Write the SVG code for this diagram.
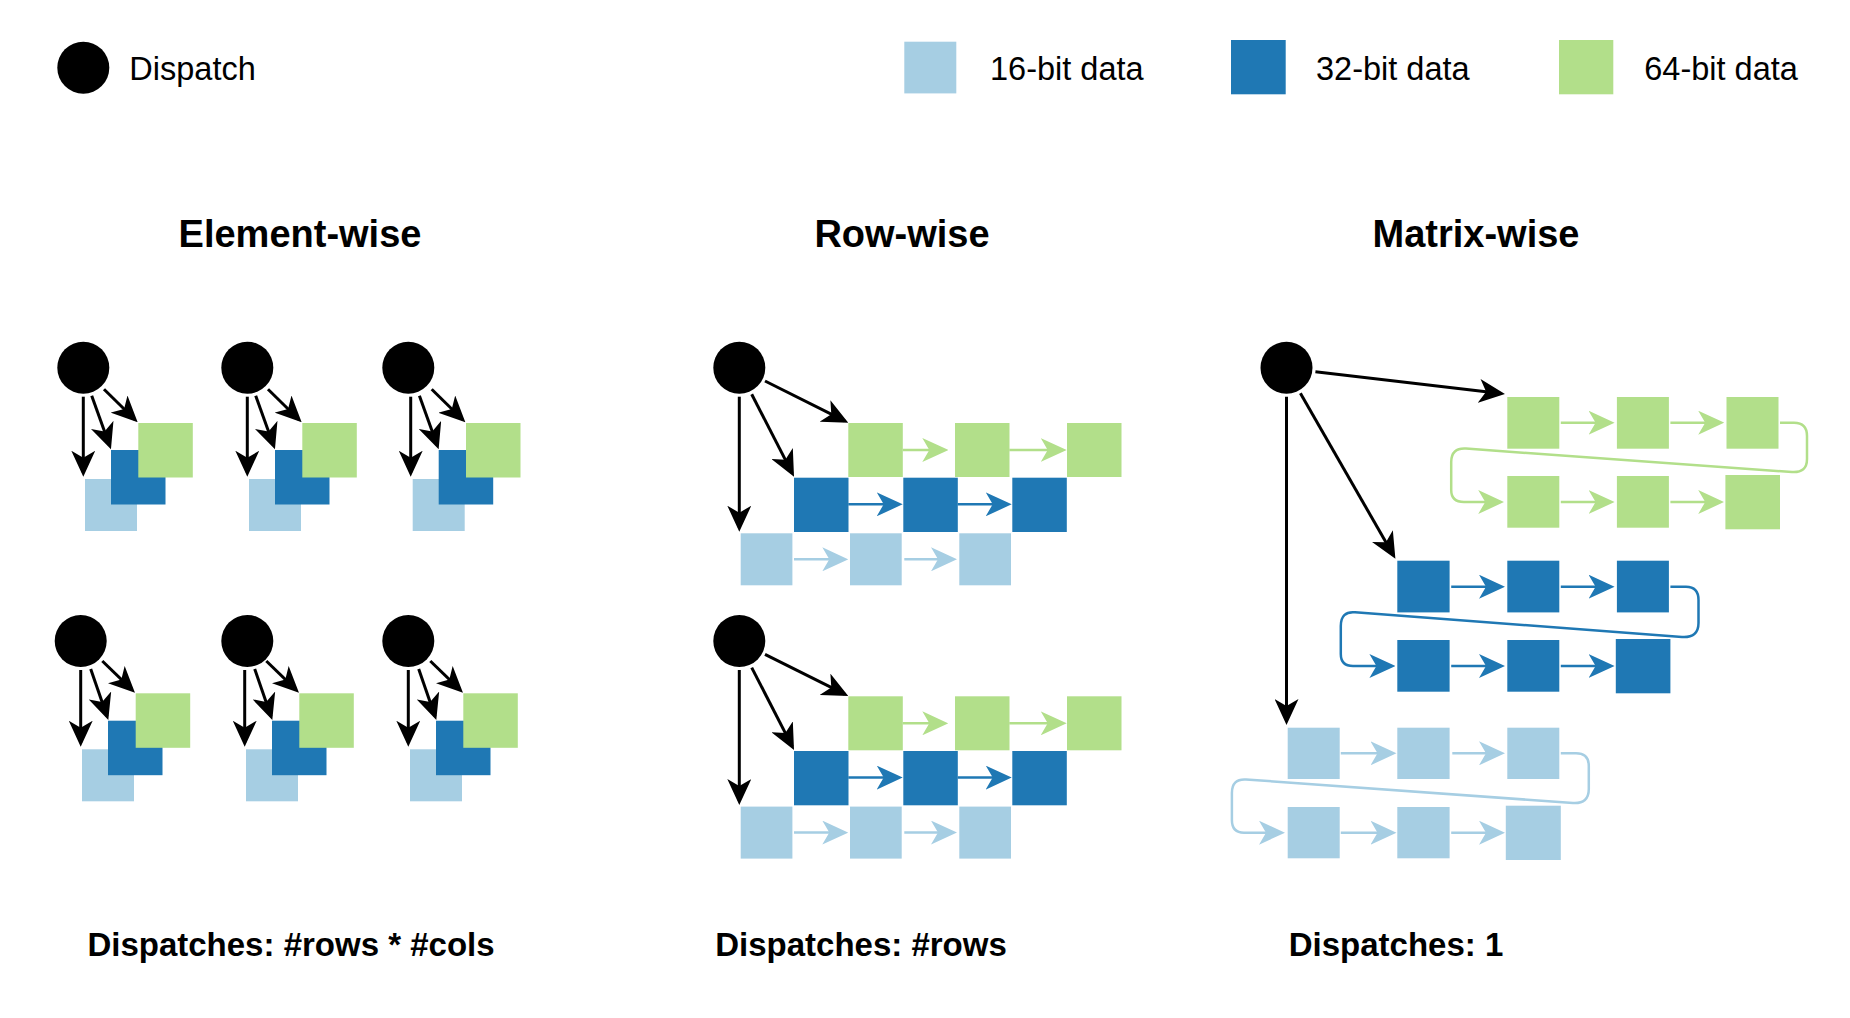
<svg xmlns="http://www.w3.org/2000/svg" width="1850" height="1018" viewBox="0 0 1850 1018">
<style>
.d{fill:#000}
.l{fill:#a6cee3}
.b{fill:#1f78b4}
.g{fill:#b2df8a}
text{font-family:"Liberation Sans",Arial,Helvetica,sans-serif;fill:#000}
.leg{font-size:32.5px}
.title{font-size:38px;font-weight:bold;text-anchor:middle}
.foot{font-size:33px;font-weight:bold;text-anchor:middle}
.k{stroke:#000;stroke-width:3;fill:none;marker-end:url(#mk)}
.cg{stroke:#b2df8a;stroke-width:2.5;fill:none;marker-end:url(#mg)}
.cb{stroke:#1f78b4;stroke-width:2.5;fill:none;marker-end:url(#mb)}
.cl{stroke:#a6cee3;stroke-width:2.5;fill:none;marker-end:url(#ml)}
</style>
<defs>
<marker id="mk" markerUnits="userSpaceOnUse" viewBox="0 0 26 24" refX="22" refY="12" markerWidth="26" markerHeight="24" orient="auto"><path d="M0,0 L26,12 L0,24 L7,12 Z" fill="#000"/></marker>
<marker id="mg" markerUnits="userSpaceOnUse" viewBox="0 0 26 24" refX="22" refY="12" markerWidth="26" markerHeight="24" orient="auto"><path d="M0,0 L26,12 L0,24 L7,12 Z" fill="#b2df8a"/></marker>
<marker id="mb" markerUnits="userSpaceOnUse" viewBox="0 0 26 24" refX="22" refY="12" markerWidth="26" markerHeight="24" orient="auto"><path d="M0,0 L26,12 L0,24 L7,12 Z" fill="#1f78b4"/></marker>
<marker id="ml" markerUnits="userSpaceOnUse" viewBox="0 0 26 24" refX="22" refY="12" markerWidth="26" markerHeight="24" orient="auto"><path d="M0,0 L26,12 L0,24 L7,12 Z" fill="#a6cee3"/></marker>
</defs>
<rect x="0" y="0" width="1850" height="1018" fill="#fff"/>

<!-- Legend -->
<g id="legend-dispatch"><circle class="d" cx="83.3" cy="67.7" r="26"/><text class="leg" x="129.3" y="80">Dispatch</text></g>
<g id="legend-16"><rect class="l" x="904.3" y="41.7" width="52" height="51.7"/><text class="leg" x="990" y="80">16-bit data</text></g>
<g id="legend-32"><rect class="b" x="1231" y="40" width="54.7" height="54.3"/><text class="leg" x="1316" y="80">32-bit data</text></g>
<g id="legend-64"><rect class="g" x="1559" y="40" width="54.3" height="54.3"/><text class="leg" x="1644.3" y="80">64-bit data</text></g>

<!-- Titles -->
<g id="title-element"><text class="title" x="300" y="246.5">Element-wise</text></g>
<g id="title-row"><text class="title" x="902" y="246.5">Row-wise</text></g>
<g id="title-matrix"><text class="title" x="1476" y="246.5">Matrix-wise</text></g>

<!-- Element-wise nodes -->
<g id="ew1-dispatch"><circle class="d" cx="83.3" cy="367.7" r="26"/></g>
<g id="ew1-16"><rect class="l" x="85" y="479" width="52" height="52"/></g>
<g id="ew1-32"><rect class="b" x="111" y="450" width="54.5" height="54.5"/></g>
<g id="ew1-64"><rect class="g" x="138.3" y="423" width="54.5" height="54.5"/></g>

<g id="ew2-dispatch"><circle class="d" cx="247.3" cy="367.7" r="26"/></g>
<g id="ew2-16"><rect class="l" x="249" y="479" width="52" height="52"/></g>
<g id="ew2-32"><rect class="b" x="275" y="450" width="54.5" height="54.5"/></g>
<g id="ew2-64"><rect class="g" x="302.3" y="423" width="54.5" height="54.5"/></g>

<g id="ew3-dispatch"><circle class="d" cx="408.3" cy="367.7" r="26"/></g>
<g id="ew3-16"><rect class="l" x="412.7" y="479" width="52" height="52"/></g>
<g id="ew3-32"><rect class="b" x="438.7" y="450" width="54.5" height="54.5"/></g>
<g id="ew3-64"><rect class="g" x="466" y="423" width="54.5" height="54.5"/></g>

<g id="ew4-dispatch"><circle class="d" cx="80.7" cy="641" r="26"/></g>
<g id="ew4-16"><rect class="l" x="82" y="749.3" width="52" height="52"/></g>
<g id="ew4-32"><rect class="b" x="108" y="720.7" width="54.5" height="54.5"/></g>
<g id="ew4-64"><rect class="g" x="135.7" y="693.3" width="54.5" height="54.5"/></g>

<g id="ew5-dispatch"><circle class="d" cx="247.3" cy="641" r="26"/></g>
<g id="ew5-16"><rect class="l" x="246" y="749.3" width="52" height="52"/></g>
<g id="ew5-32"><rect class="b" x="272" y="720.7" width="54.5" height="54.5"/></g>
<g id="ew5-64"><rect class="g" x="299.3" y="693.3" width="54.5" height="54.5"/></g>

<g id="ew6-dispatch"><circle class="d" cx="408.3" cy="641" r="26"/></g>
<g id="ew6-16"><rect class="l" x="410" y="749.3" width="52" height="52"/></g>
<g id="ew6-32"><rect class="b" x="436" y="720.7" width="54.5" height="54.5"/></g>
<g id="ew6-64"><rect class="g" x="463.3" y="693.3" width="54.5" height="54.5"/></g>

<!-- Row-wise nodes, section 1 -->
<g id="rw1-dispatch"><circle class="d" cx="739.3" cy="367.7" r="26"/></g>
<g id="rw1-64a"><rect class="g" x="848.3" y="423" width="54.5" height="54"/></g>
<g id="rw1-64b"><rect class="g" x="955" y="423" width="54.5" height="54"/></g>
<g id="rw1-64c"><rect class="g" x="1067" y="423" width="54.5" height="54"/></g>
<g id="rw1-32a"><rect class="b" x="794" y="477.7" width="54.5" height="54.3"/></g>
<g id="rw1-32b"><rect class="b" x="903.3" y="477.7" width="54.5" height="54.3"/></g>
<g id="rw1-32c"><rect class="b" x="1012.3" y="477.7" width="54.5" height="54.3"/></g>
<g id="rw1-16a"><rect class="l" x="740.7" y="533.3" width="51.7" height="52"/></g>
<g id="rw1-16b"><rect class="l" x="850" y="533.3" width="51.7" height="52"/></g>
<g id="rw1-16c"><rect class="l" x="959.3" y="533.3" width="51.7" height="52"/></g>

<!-- Row-wise nodes, section 2 -->
<g id="rw2-dispatch"><circle class="d" cx="739.3" cy="641" r="26"/></g>
<g id="rw2-64a"><rect class="g" x="848.3" y="696.3" width="54.5" height="54"/></g>
<g id="rw2-64b"><rect class="g" x="955" y="696.3" width="54.5" height="54"/></g>
<g id="rw2-64c"><rect class="g" x="1067" y="696.3" width="54.5" height="54"/></g>
<g id="rw2-32a"><rect class="b" x="794" y="751" width="54.5" height="54.3"/></g>
<g id="rw2-32b"><rect class="b" x="903.3" y="751" width="54.5" height="54.3"/></g>
<g id="rw2-32c"><rect class="b" x="1012.3" y="751" width="54.5" height="54.3"/></g>
<g id="rw2-16a"><rect class="l" x="740.7" y="806.6" width="51.7" height="52"/></g>
<g id="rw2-16b"><rect class="l" x="850" y="806.6" width="51.7" height="52"/></g>
<g id="rw2-16c"><rect class="l" x="959.3" y="806.6" width="51.7" height="52"/></g>

<!-- Matrix-wise nodes -->
<g id="mw-dispatch"><circle class="d" cx="1286.5" cy="367.7" r="26"/></g>
<g id="mw-64-1"><rect class="g" x="1507.3" y="397" width="52" height="51.7"/></g>
<g id="mw-64-2"><rect class="g" x="1616.9" y="397" width="52" height="51.7"/></g>
<g id="mw-64-3"><rect class="g" x="1726.5" y="397" width="52" height="51.7"/></g>
<g id="mw-64-4"><rect class="g" x="1507.3" y="476" width="52" height="51.7"/></g>
<g id="mw-64-5"><rect class="g" x="1616.9" y="476" width="52" height="51.7"/></g>
<g id="mw-64-6"><rect class="g" x="1725.4" y="475" width="54.6" height="54.3"/></g>
<g id="mw-32-1"><rect class="b" x="1397.3" y="560.7" width="52.3" height="51.7"/></g>
<g id="mw-32-2"><rect class="b" x="1507.3" y="560.7" width="52" height="51.7"/></g>
<g id="mw-32-3"><rect class="b" x="1616.9" y="560.7" width="52" height="51.7"/></g>
<g id="mw-32-4"><rect class="b" x="1397.3" y="640" width="52.3" height="51.7"/></g>
<g id="mw-32-5"><rect class="b" x="1507.3" y="640" width="52" height="51.7"/></g>
<g id="mw-32-6"><rect class="b" x="1615.8" y="639" width="54.6" height="54.3"/></g>
<g id="mw-16-1"><rect class="l" x="1287.7" y="727.7" width="52" height="51.3"/></g>
<g id="mw-16-2"><rect class="l" x="1397.3" y="727.7" width="52.3" height="51.3"/></g>
<g id="mw-16-3"><rect class="l" x="1507.3" y="727.7" width="52" height="51.3"/></g>
<g id="mw-16-4"><rect class="l" x="1287.7" y="807" width="52" height="51.3"/></g>
<g id="mw-16-5"><rect class="l" x="1397.3" y="807" width="52.3" height="51.3"/></g>
<g id="mw-16-6"><rect class="l" x="1505.8" y="805.7" width="55" height="54.3"/></g>

<!-- Footers -->
<g id="foot-element"><text class="foot" x="291" y="956">Dispatches: #rows * #cols</text></g>
<g id="foot-row"><text class="foot" x="861" y="956">Dispatches: #rows</text></g>
<g id="foot-matrix"><text class="foot" x="1396" y="956">Dispatches: 1</text></g>

<!-- Connectors -->
<g id="connectors">
<!-- element-wise -->
<path class="k" d="M83.3,396.7 L83.3,472.7"/>
<path class="k" d="M91.7,395.7 L109.6,445.6"/>
<path class="k" d="M104,389.3 L134.8,419.5"/>
<path class="k" d="M247.3,396.7 L247.3,472.7"/>
<path class="k" d="M255.7,395.7 L273.6,445.6"/>
<path class="k" d="M268,389.3 L298.8,419.5"/>
<path class="k" d="M410.7,396.7 L410.7,472.7"/>
<path class="k" d="M419.4,395.7 L437.3,445.6"/>
<path class="k" d="M431.7,389.3 L462.5,419.5"/>
<path class="k" d="M80.7,670 L80.7,742.7"/>
<path class="k" d="M90.7,669 L107,716.2"/>
<path class="k" d="M102.3,661 L132.1,689.9"/>
<path class="k" d="M244.7,670 L244.7,742.7"/>
<path class="k" d="M254.7,669 L271,716.2"/>
<path class="k" d="M266.3,661 L296.1,689.9"/>
<path class="k" d="M408.3,670 L408.3,742.7"/>
<path class="k" d="M418.7,669 L435,716.2"/>
<path class="k" d="M430.3,661 L460.1,689.9"/>
<!-- row-wise 1 -->
<path class="k" d="M739.3,396.7 L739.3,527.7"/>
<path class="k" d="M751.7,394.3 L792.2,473.1"/>
<path class="k" d="M765,381 L844.7,420.9"/>
<path class="cg" d="M902.7,450 L944.3,450"/>
<path class="cg" d="M1009.3,450 L1062.7,450"/>
<path class="cb" d="M848.3,504.3 L898.7,504.3"/>
<path class="cb" d="M957.7,504.3 L1007.7,504.3"/>
<path class="cl" d="M794,559.3 L844.3,559.3"/>
<path class="cl" d="M904.3,559.3 L953,559.3"/>
<!-- row-wise 2 -->
<path class="k" d="M739.3,670 L739.3,801"/>
<path class="k" d="M751.7,667.6 L792.2,746.4"/>
<path class="k" d="M765,654.3 L844.7,694.2"/>
<path class="cg" d="M902.7,723.3 L944.3,723.3"/>
<path class="cg" d="M1009.3,723.3 L1062.7,723.3"/>
<path class="cb" d="M848.3,777.6 L898.7,777.6"/>
<path class="cb" d="M957.7,777.6 L1007.7,777.6"/>
<path class="cl" d="M794,832.6 L844.3,832.6"/>
<path class="cl" d="M904.3,832.6 L953,832.6"/>
<!-- matrix-wise -->
<path class="k" d="M1315.4,371.7 L1501,393.5"/>
<path class="k" d="M1300.4,393.3 L1393.4,555.2"/>
<path class="k" d="M1286.5,396.7 L1286.5,721"/>
<path class="cg" d="M1560.8,422.7 L1610.6,422.7"/>
<path class="cg" d="M1670.4,422.7 L1720.2,422.7"/>
<path class="cg" d="M1780,422.7 L1794,422.7 Q1807,422.7 1807,436 L1807,459 Q1807,473 1792,472 L1466,448.6 Q1451.2,447.6 1451.2,462 L1451.2,490 Q1451.2,502 1464,502 L1500.2,502"/>
<path class="cg" d="M1560.8,502 L1610.6,502"/>
<path class="cg" d="M1670.4,502 L1720.2,502"/>
<path class="cb" d="M1451.2,586.7 L1501,586.7"/>
<path class="cb" d="M1560.8,586.7 L1610.6,586.7"/>
<path class="cb" d="M1670.4,586.7 L1686,586.7 Q1698.5,586.7 1698.5,600 L1698.5,623 Q1698.5,638 1682,637 L1355,612.3 Q1340.8,611 1340.8,626 L1340.8,654 Q1340.8,666 1353,666 L1391.4,666"/>
<path class="cb" d="M1451.2,666 L1501,666"/>
<path class="cb" d="M1560.8,666 L1610.6,666"/>
<path class="cl" d="M1340.8,753.3 L1392.5,753.3"/>
<path class="cl" d="M1452.3,753.3 L1501,753.3"/>
<path class="cl" d="M1560.8,753.3 L1576,753.3 Q1588.8,753.3 1588.8,766 L1588.8,789 Q1588.8,804 1573,803 L1246,779.5 Q1231.9,778.5 1231.9,793 L1231.9,820 Q1231.9,832.7 1244,832.7 L1281,832.7"/>
<path class="cl" d="M1340.8,832.7 L1392.5,832.7"/>
<path class="cl" d="M1451.2,832.7 L1501,832.7"/>
</g>
</svg>
